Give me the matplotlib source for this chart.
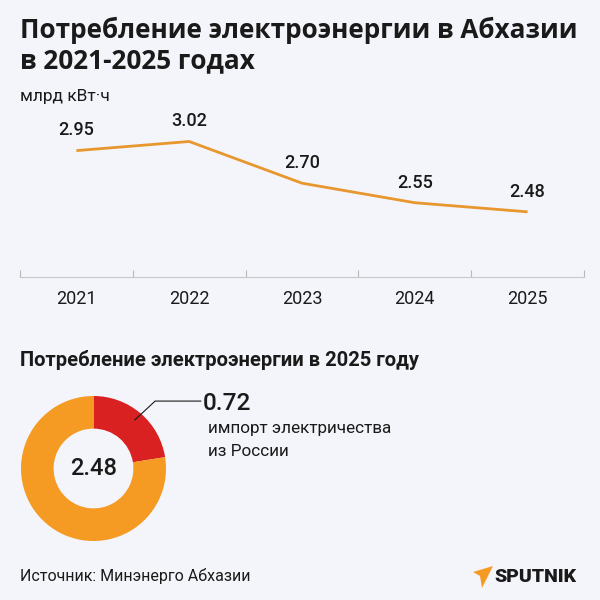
import matplotlib.pyplot as plt
from matplotlib.patches import Polygon

# данные
years = ['2021', '2022', '2023', '2024', '2025']
consumption = [2.95, 3.02, 2.70, 2.55, 2.48]
donut_values = [0.72, 2.48]
donut_colors = ['#d92121', '#f59a23']

bg = '#f4f5fa'
line_color = '#e8972f'
dark = '#1a1a1a'

plt.rcParams['font.family'] = ['Roboto', 'DejaVu Sans']

fig = plt.figure(figsize=(6, 6), dpi=100, facecolor=bg)

# заголовок
title_font = ['Open Sans', 'DejaVu Sans']
fig.text(20/600, 1-30/600, 'Потребление электроэнергии в Абхазии',
         fontsize=18.8, fontweight='bold', color=dark, va='center', family=title_font)
fig.text(20/600, 1-61/600, 'в 2021-2025 годах',
         fontsize=18.8, fontweight='bold', color=dark, va='center', family=title_font)
fig.text(20/600, 1-96/600, 'млрд кВт·ч', fontsize=12.5, color=dark, va='center')

# линейный график
ax = fig.add_axes([20/600, 1-277/600, 564/600, 172/600])
ax.set_facecolor(bg)
x = range(len(years))
ax.plot(x, consumption, color=line_color, lw=2, solid_capstyle='butt')
for xi, v in zip(x, consumption):
    ax.annotate(f'{v:.2f}', (xi, v), xytext=(0, 8), textcoords='offset points',
                ha='center', va='bottom', fontsize=13, fontweight='medium', color=dark)
ax.set_xlim(-0.5, len(years)-0.5)
ax.set_ylim(1.98, 3.30)
ax.set_xticks(list(x))
ax.set_xticklabels(years, fontsize=13, color=dark)
ax.set_xticks([i-0.5 for i in range(len(years)+1)], minor=True)
ax.tick_params(axis='x', which='major', length=0, pad=9)
ax.tick_params(axis='x', which='minor', length=5, direction='in', color='#b8b8b8', width=0.8)
ax.set_yticks([])
for s in ['top', 'left', 'right']:
    ax.spines[s].set_visible(False)
ax.spines['bottom'].set_color('#c8c8c8')
ax.spines['bottom'].set_linewidth(0.8)

# подзаголовок
fig.text(20/600, 1-360/600, 'Потребление электроэнергии в 2025 году',
         fontsize=14.5, fontweight='bold', color=dark, va='center')

# кольцевая диаграмма
ax2 = fig.add_axes([21/600, 1-541/600, 145/600, 145/600])
ax2.pie(donut_values, colors=donut_colors, startangle=90, counterclock=False,
        radius=1, wedgeprops=dict(width=0.45, edgecolor='none'))
ax2.set_xlim(-1, 1)
ax2.set_ylim(-1, 1)
ax2.text(0, 0, f'{donut_values[1]:.2f}', ha='center', va='center', fontsize=17,
         fontweight='medium', color=dark)

# выноска
ax2.plot([0.57, 0.85, 1.48], [0.67, 0.93, 0.93], color=dark, lw=0.8, clip_on=False)
fig.text(203/600, 1-403/600, f'{donut_values[0]:.2f}', fontsize=17.5, fontweight='medium',
         color=dark, va='center')
fig.text(208/600, 1-428/600, 'импорт электричества', fontsize=12.3, color=dark, va='center')
fig.text(208/600, 1-451/600, 'из России', fontsize=12.3, color=dark, va='center')

# источник
fig.text(20/600, 1-576/600, 'Источник: Минэнерго Абхазии', fontsize=11.5, color=dark, va='center')

# логотип
logo = Polygon([[473/600, 1-572/600], [493/600, 1-566/600], [482/600, 1-588/600], [480/600, 1-576/600]],
               closed=True, facecolor='#f59a23', edgecolor='none', transform=fig.transFigure)
fig.add_artist(logo)
fig.text(494/600, 1-577/600, 'SPUTNIK', fontsize=14, fontweight='black', color=dark, va='center')

fig.savefig('out.png', dpi=100, facecolor=bg)
